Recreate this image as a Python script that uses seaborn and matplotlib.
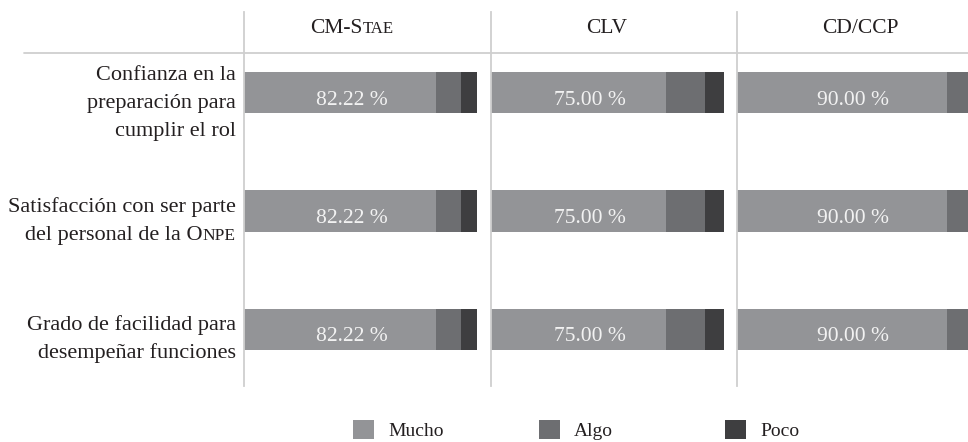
import pandas as pd
import matplotlib.pyplot as plt
from matplotlib.patches import Patch
import seaborn as sns

# ── Data ──────────────────────────────────────────────────────────────────────
items = ["Confianza", "Satisfacción", "Facilidad"]
item_lines = [
    [("Confianza en la", ""), ("preparación para", ""), ("cumplir el rol", "")],
    [("Satisfacción con ser parte", ""), ("del personal de la O", "npe")],
    [("Grado de facilidad para", ""), ("desempeñar funciones", "")],
]
groups = [("CM-S", "tae"), ("CLV", ""), ("CD/CCP", "")]
mucho = [[82.22, 82.22, 82.22], [75.00, 75.00, 75.00], [90.00, 90.00, 90.00]]
algo = [[11.11, 11.11, 11.11], [16.67, 16.67, 16.67], [10.00, 10.00, 10.00]]
poco = [[6.67, 6.67, 6.67], [8.33, 8.33, 8.33], [0.0, 0.0, 0.0]]
levels = ["Mucho", "Algo", "Poco"]

# ── Style ─────────────────────────────────────────────────────────────────────
sns.set_theme(style="white")
plt.rcParams["font.family"] = ["Liberation Serif", "DejaVu Serif"]
COLORS = {"Mucho": "#939497", "Algo": "#6d6e71", "Poco": "#3e3e40"}
TEXT = "#231f20"
LINE = "#cfcfcf"

W, H = 968, 442
fig = plt.figure(figsize=(W / 100, H / 100), dpi=100)


def smallcaps(ax, x, y, head, tail, size, transform, ha="right", color=TEXT):
    """Draw head text followed by tail in small caps (baseline aligned)."""
    if not tail:
        ax.text(x, y, head, ha=ha, va="baseline", fontsize=size, color=color,
                transform=transform)
        return
    if ha == "right":
        t = ax.text(x, y, tail.upper(), ha="right", va="baseline",
                    fontsize=size * 0.78, color=color, transform=transform)
        ax.annotate(head, xy=(0, y), xycoords=(t, transform), ha="right",
                    va="baseline", fontsize=size, color=color)
    else:
        h = ax.text(x, y, head, ha="right", va="baseline", fontsize=size,
                    color=color, transform=transform)
        ax.annotate(tail.upper(), xy=(1, y), xycoords=(h, transform), ha="left",
                    va="baseline", fontsize=size * 0.78, color=color)


lefts = [244, 491, 737]
ax_w, top_px, bot_px = 246, 12, 386
for g, (gname, gtail) in enumerate(groups):
    ax = fig.add_axes([lefts[g] / W, (H - bot_px) / H, ax_w / W, (bot_px - top_px) / H])
    df = pd.DataFrame({"item": items, "Mucho": mucho[g], "Algo": algo[g], "Poco": poco[g]})
    df["c_algo"] = df["Mucho"] + df["Algo"]
    df["c_poco"] = df["c_algo"] + df["Poco"]
    # stacked bars: draw cumulative totals from back to front
    for col, lvl in [("c_poco", "Poco"), ("c_algo", "Algo"), ("Mucho", "Mucho")]:
        sns.barplot(data=df, x=col, y="item", orient="h", color=COLORS[lvl],
                    saturation=1, width=0.347, linewidth=0, ax=ax)
    ax.set_xlim(0, 105.6)
    ax.set_ylim(2.479, -0.682)
    ax.set_xlabel("")
    ax.set_ylabel("")
    ax.set_xticks([])
    ax.set_yticks([])
    for s in ["top", "right", "bottom"]:
        ax.spines[s].set_visible(False)
    ax.spines["left"].set_color(LINE)
    ax.spines["left"].set_linewidth(1.3)

    # header line
    xmin = -0.894 if g == 0 else 0
    ax.axhline(-0.335, xmin=xmin, xmax=1, color=LINE, lw=1.3, clip_on=False)

    # header
    hx = [0.483, 0.47, 0.5][g]
    smallcaps(ax, hx, -0.504, gname, gtail, 15.5, ax.get_yaxis_transform(),
              ha="center" if not gtail else "left")

    # value labels
    for i, v in enumerate(mucho[g]):
        ax.text(v / 2 + 5, i + 0.1, f"{v:.2f} %", ha="center", va="baseline",
                fontsize=15.5, color="#f2f2f2")

    # row labels
    if g == 0:
        for i, lines in enumerate(item_lines):
            n = len(lines)
            for j, (head, tail) in enumerate(lines):
                y = i + 0.127 + (j - (n - 1) / 2) * 0.237
                smallcaps(ax, -0.033, y, head, tail, 16, ax.get_yaxis_transform())

# ── Legend ────────────────────────────────────────────────────────────────────
for k, lvl in enumerate(levels):
    fig.legend(handles=[Patch(facecolor=COLORS[lvl], edgecolor="none", label=lvl)],
               loc="upper left", bbox_to_anchor=([353, 539, 725][k] / W, (H - 420) / H),
               frameon=False, fontsize=14, handlelength=1.1, handleheight=1.1,
               handletextpad=0.7, borderpad=0, borderaxespad=0, labelcolor=TEXT)

fig.savefig("out.png", dpi=100)
